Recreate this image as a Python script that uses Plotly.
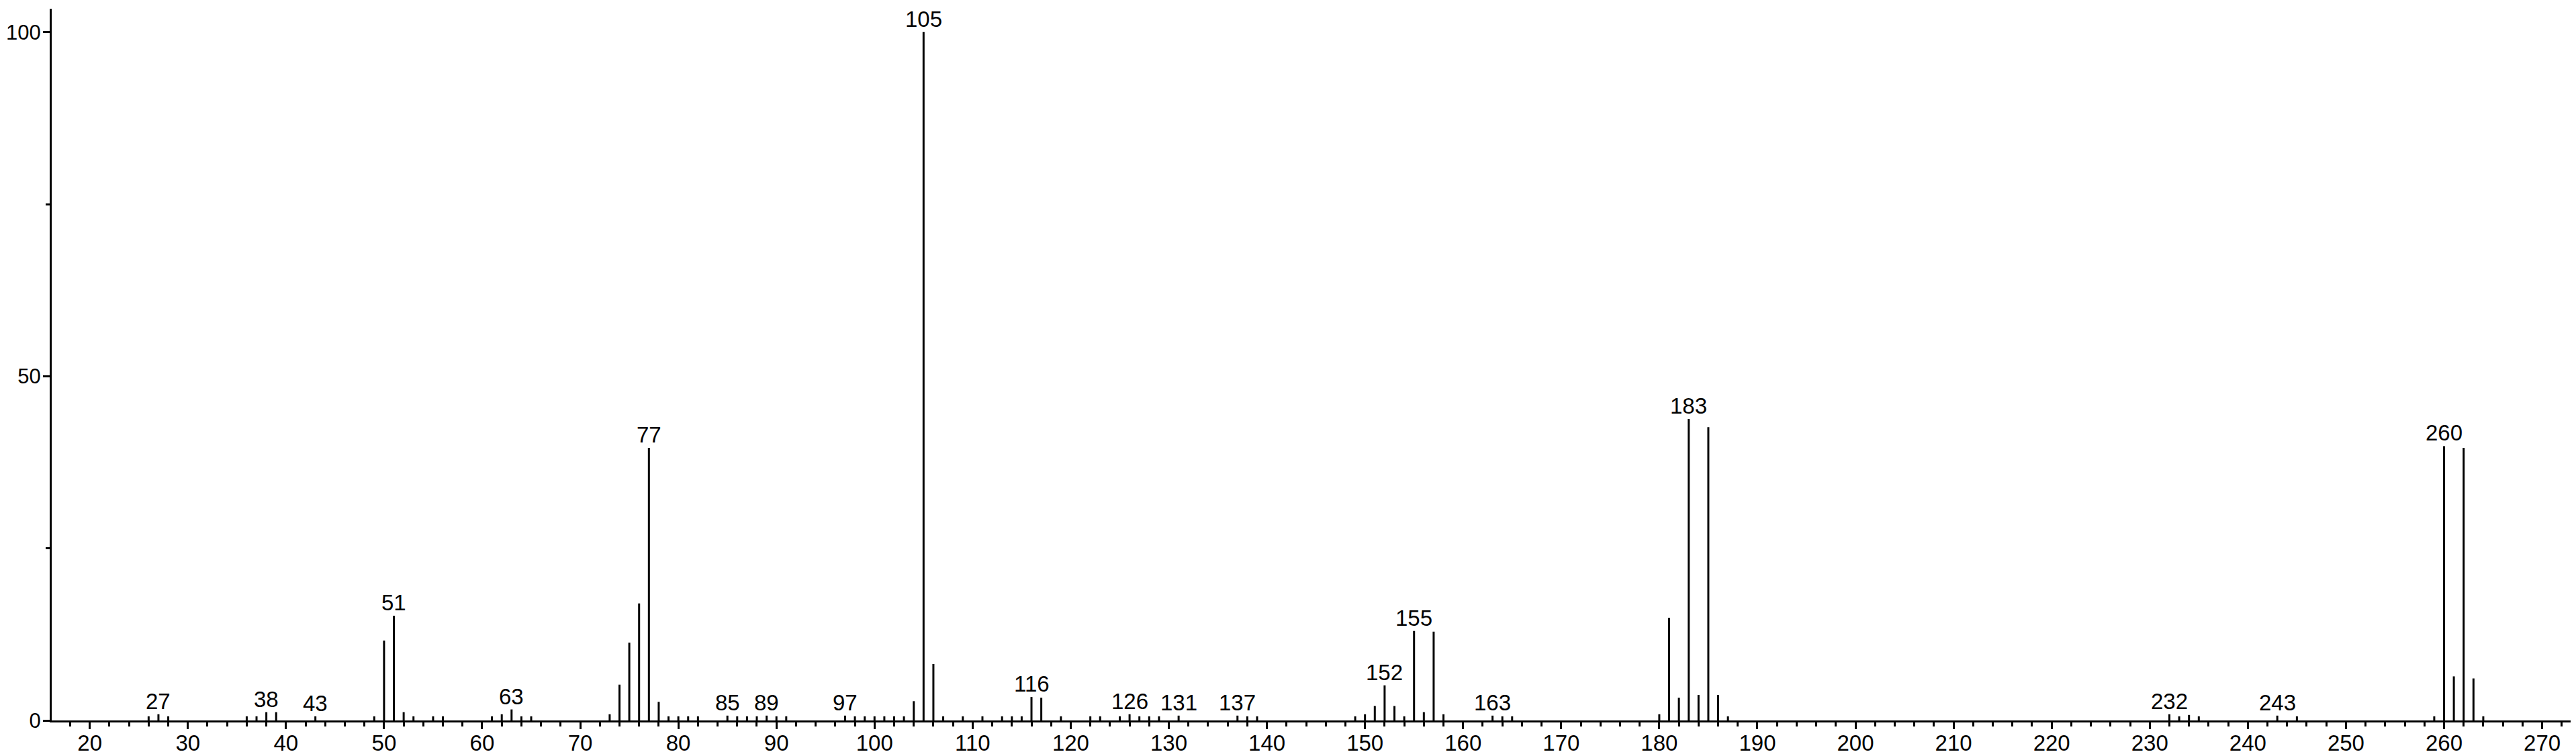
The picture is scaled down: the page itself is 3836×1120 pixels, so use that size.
import plotly.graph_objects as go

# m/z values and relative intensities
mz = [26, 27, 28, 36, 37, 38, 39, 43, 49, 50, 51, 52, 53, 55, 56,
      61, 62, 63, 64, 65, 73, 74, 75, 76, 77, 78, 79, 80, 81, 82,
      85, 86, 87, 88, 89, 90, 91, 97, 98, 99, 100, 101, 102, 103, 104,
      105, 106, 107, 109, 111, 113, 114, 115, 116, 117, 119,
      122, 123, 125, 126, 127, 128, 129, 131, 137, 138, 139,
      149, 150, 151, 152, 153, 154, 155, 156, 157, 158, 163, 164, 165,
      180, 181, 182, 183, 184, 185, 186, 187,
      232, 233, 234, 235, 243, 245, 259, 260, 261, 262, 263, 264]
intensity = [0.6, 0.9, 0.6, 0.6, 0.6, 1.2, 1.2, 0.6, 0.6, 11.6, 15.2, 1.2, 0.6, 0.6, 0.6,
             0.6, 0.9, 1.6, 0.6, 0.6, 0.9, 5.2, 11.3, 17.0, 39.6, 2.7, 0.6, 0.6, 0.6, 0.6,
             0.7, 0.6, 0.6, 0.6, 0.7, 0.6, 0.6, 0.7, 0.6, 0.6, 0.6, 0.6, 0.6, 0.6, 2.8,
             100.0, 8.2, 0.6, 0.6, 0.6, 0.6, 0.6, 0.6, 3.4, 3.3, 0.6,
             0.6, 0.6, 0.6, 0.9, 0.6, 0.6, 0.6, 0.7, 0.7, 0.6, 0.6,
             0.6, 0.9, 2.1, 5.1, 2.1, 0.6, 13.0, 1.2, 12.9, 0.9, 0.7, 0.6, 0.6,
             0.9, 14.9, 3.3, 43.8, 3.7, 42.6, 3.7, 0.6,
             0.9, 0.6, 0.8, 0.6, 0.7, 0.6, 0.6, 39.85, 6.4, 39.6, 6.1, 0.6]

# peaks that carry an m/z label
labeled_mz = [27, 38, 43, 51, 63, 77, 85, 89, 97, 105, 116, 126, 131, 137,
              152, 155, 163, 183, 232, 243, 260]

# axis ticks
x_tickvals = list(range(20, 280, 10))
x_ticktext = [str(v) for v in x_tickvals]
y_tickvals = [0, 50, 100]
y_ticktext = ["0", "50", "100"]
y_minor_tickvals = [25, 75]

FONT = "Liberation Sans, Arial, sans-serif"
FS = 33
FS_Y = 31

XR = [16.12, 274.0]
YR = [0, 103.4]

# stick spectrum built from the arrays
xs, ys = [], []
for m, v in zip(mz, intensity):
    xs += [m, m, None]
    ys += [0, v, None]

fig = go.Figure()
fig.add_trace(go.Scatter(x=xs, y=ys, mode="lines",
                         line=dict(color="black", width=3),
                         hoverinfo="skip", showlegend=False))
# invisible helper traces so the overlay axes (tick marks only) are rendered
fig.add_trace(go.Scatter(x=[XR[0]], y=[0], xaxis="x2", yaxis="y", mode="markers",
                         marker=dict(opacity=0), hoverinfo="skip",
                         showlegend=False))
fig.add_trace(go.Scatter(x=[XR[0]], y=[0], xaxis="x", yaxis="y2", mode="markers",
                         marker=dict(opacity=0), hoverinfo="skip",
                         showlegend=False))

lookup = dict(zip(mz, intensity))
for m in labeled_mz:
    fig.add_annotation(x=m, y=lookup[m], text=str(m), showarrow=False,
                       xanchor="center", yanchor="bottom", yshift=-1,
                       font=dict(family=FONT, size=FS, color="black"))

fig.update_layout(
    width=3836, height=1120,
    margin=dict(l=69, r=0, t=5, b=55, autoexpand=False),
    paper_bgcolor="white", plot_bgcolor="white",
    font=dict(family=FONT, size=FS, color="black"),
    showlegend=False,
    xaxis=dict(
        range=XR, showgrid=False, zeroline=False, automargin=False,
        showline=True, linecolor="black", linewidth=3,
        ticks="", tickvals=x_tickvals, ticktext=x_ticktext,
        tickfont=dict(family=FONT, size=FS, color="black"),
        ticklabelstandoff=2,
        minor=dict(dtick=2, tick0=0, ticks="outside", ticklen=6, tickwidth=3,
                   tickcolor="black", showgrid=False),
    ),
    xaxis2=dict(
        overlaying="x", matches="x", range=XR, side="bottom", anchor="y",
        automargin=False, showgrid=False, zeroline=False, showline=False,
        ticks="outside", ticklen=12, tickwidth=3, tickcolor="black",
        tickvals=x_tickvals, showticklabels=False,
    ),
    yaxis=dict(
        range=YR, showgrid=False, zeroline=False, automargin=False,
        showline=True, linecolor="black", linewidth=3,
        ticks="", tickvals=y_tickvals, ticktext=y_ticktext,
        tickfont=dict(family=FONT, size=FS_Y, color="black"),
        ticklabelstandoff=7,
    ),
    yaxis2=dict(
        overlaying="y", matches="y", range=YR, side="left", anchor="x",
        automargin=False, showgrid=False, zeroline=False, showline=False,
        ticks="outside", ticklen=12, tickwidth=3, tickcolor="black",
        tickvals=y_tickvals, showticklabels=False,
        minor=dict(tickvals=y_minor_tickvals, ticks="outside", ticklen=8,
                   tickwidth=3, tickcolor="black", showgrid=False),
    ),
)

fig.write_html("out.html")
